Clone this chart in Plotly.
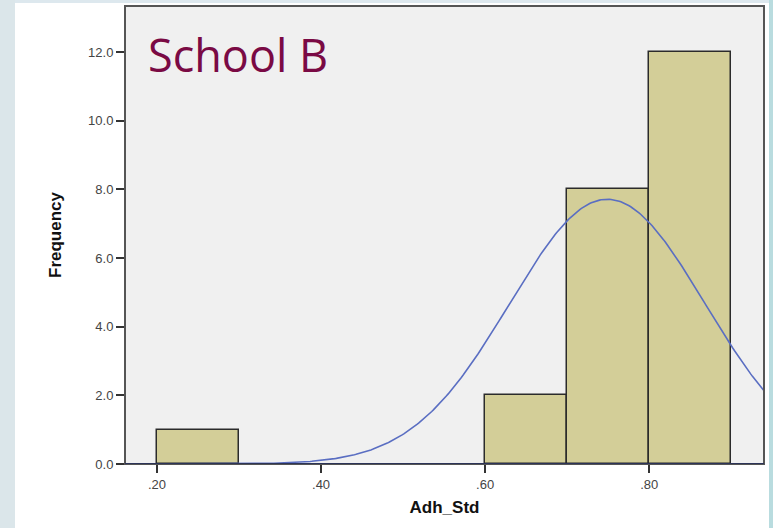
import numpy as np
import plotly.graph_objects as go

# Histogram data (Adh_Std, School B)
bin_starts = [0.20, 0.60, 0.70, 0.80]
bin_width = 0.10
frequencies = [1, 2, 8, 12]
n_total = 23
fit_mean = 0.749
fit_sd = 0.119
x_tick_vals = [0.2, 0.4, 0.6, 0.8]
x_tick_text = [".20", ".40", ".60", ".80"]
y_tick_vals = [0, 2, 4, 6, 8, 10, 12]
y_tick_text = ["0.0", "2.0", "4.0", "6.0", "8.0", "10.0", "12.0"]

fig = go.Figure()

fig.add_trace(go.Bar(
    x=[s + bin_width / 2 for s in bin_starts],
    y=frequencies,
    width=[bin_width] * len(bin_starts),
    marker=dict(color="#d3ce98", line=dict(color="#2b2b2b", width=1.5)),
    showlegend=False,
    hoverinfo="skip",
))

xs = np.linspace(0.15, 0.95, 400)
ys = n_total * bin_width / (fit_sd * np.sqrt(2 * np.pi)) * np.exp(-0.5 * ((xs - fit_mean) / fit_sd) ** 2)
fig.add_trace(go.Scatter(
    x=xs, y=ys, mode="lines",
    line=dict(color="#5a6ec2", width=1.6),
    showlegend=False, hoverinfo="skip",
))

W, H = 773, 528
L, R, T, B = 125, 9, 6, 64
pw, ph = W - L - R, H - T - B

def px2x(px):
    return (px - L) / pw

def py2y(py):
    return (H - B - py) / ph

shapes = [
    # outer light strips
    dict(type="rect", xref="paper", yref="paper", x0=px2x(0), x1=px2x(15), y0=py2y(H), y1=py2y(0),
         fillcolor="#dbe6ea", line=dict(width=0), layer="above"),
    dict(type="rect", xref="paper", yref="paper", x0=px2x(769), x1=px2x(W), y0=py2y(H), y1=py2y(0),
         fillcolor="#b9dcdf", line=dict(width=0), layer="above"),
    dict(type="rect", xref="paper", yref="paper", x0=px2x(15), x1=px2x(769), y0=py2y(3), y1=py2y(0),
         fillcolor="#dde8ee", line=dict(width=0), layer="above"),
    # plot border
    dict(type="rect", xref="paper", yref="paper", x0=0, x1=1, y0=0, y1=1,
         line=dict(color="#555555", width=2), fillcolor="rgba(0,0,0,0)", layer="above"),
    # x baseline
    dict(type="line", xref="paper", yref="y", x0=0, x1=1, y0=0, y1=0,
         line=dict(color="#1f2a5a", width=1.5), layer="above"),
]

fig.update_layout(
    width=W, height=H,
    margin=dict(l=L, r=R, t=T, b=B),
    paper_bgcolor="white",
    plot_bgcolor="#f0f0f0",
    bargap=0,
    shapes=shapes,
    font=dict(family="Liberation Sans, Arial, sans-serif", color="#444444"),
    xaxis=dict(
        range=[0.161, 0.940],
        tickvals=x_tick_vals, ticktext=x_tick_text,
        ticks="outside", ticklen=8, tickwidth=2, tickcolor="#333333",
        showgrid=False, zeroline=False, showline=False,
        tickfont=dict(size=13, color="#444444"),
        title=dict(text="<b>Adh_Std</b>", font=dict(size=17, color="#111111"), standoff=10),
    ),
    yaxis=dict(
        range=[0, 13.34],
        tickvals=y_tick_vals, ticktext=y_tick_text,
        ticks="outside", ticklen=8, tickwidth=2, tickcolor="#333333",
        showgrid=False, zeroline=False, showline=False,
        tickfont=dict(size=13, color="#444444"),
        title=dict(text="<b>Frequency</b>", font=dict(size=17, color="#111111"), standoff=22),
    ),
    annotations=[dict(
        text="School B", xref="paper", yref="paper",
        x=px2x(146), y=py2y(55), xanchor="left", yanchor="middle",
        showarrow=False,
        font=dict(family="Open Sans, Noto Sans, sans-serif", size=45, color="#7a0a44"),
    )],
)

fig.write_html("out.html")
